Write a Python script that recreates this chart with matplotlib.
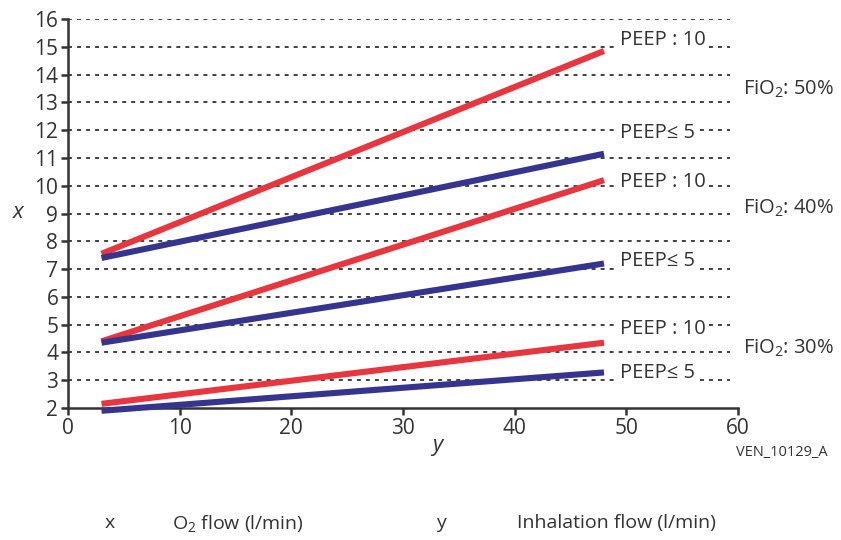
import matplotlib.pyplot as plt

plt.rcParams["font.family"] = ["Open Sans", "DejaVu Sans"]
plt.rcParams["mathtext.fontset"] = "custom"
plt.rcParams["mathtext.rm"] = "Open Sans"
plt.rcParams["mathtext.it"] = "Open Sans:italic"

# inhalation flow (l/min) at the two ends of every line
inhalation_flow = [3, 48]

# O2 flow (l/min) for each FiO2 / PEEP combination
o2_fio2_50_peep10 = [7.55, 14.85]
o2_fio2_50_peep5 = [7.4, 11.15]
o2_fio2_40_peep10 = [4.4, 10.2]
o2_fio2_40_peep5 = [4.35, 7.2]
o2_fio2_30_peep10 = [2.15, 4.35]
o2_fio2_30_peep5 = [1.9, 3.28]

peep_labels = ["PEEP : 10", "PEEP\u2264 5", "PEEP : 10", "PEEP\u2264 5", "PEEP : 10", "PEEP\u2264 5"]
peep_label_y = [15.25, 11.9, 10.15, 7.3, 4.85, 3.25]
fio2_labels = ["FiO$_2$: 50%", "FiO$_2$: 40%", "FiO$_2$: 30%"]
fio2_label_y = [13.48, 9.19, 4.14]

RED = "#e8363e"
BLUE = "#35358f"
GREY = "#333333"

fig = plt.figure(figsize=(8.41, 5.40), dpi=100)
ax = fig.add_axes([68 / 841, 1 - 408 / 540, 670 / 841, 389 / 540])

ax.set_xlim(0, 60)
ax.set_ylim(2, 16)
ax.set_xticks(range(0, 61, 10))
ax.set_yticks(range(2, 17))

for y in range(3, 17):
    ax.axhline(y, xmin=0, xmax=0.988, color=GREY, linewidth=1.3,
               linestyle=(0, (2.2, 2.8)), zorder=1)

series = [
    (o2_fio2_50_peep10, RED),
    (o2_fio2_50_peep5, BLUE),
    (o2_fio2_40_peep10, RED),
    (o2_fio2_40_peep5, BLUE),
    (o2_fio2_30_peep10, RED),
    (o2_fio2_30_peep5, BLUE),
]
for values, color in series:
    ax.plot(inhalation_flow, values, color=color, linewidth=4.4,
            solid_capstyle="butt", clip_on=False, zorder=3)

for label, y in zip(peep_labels, peep_label_y):
    ax.text(49.4, y, label, fontsize=14.5, color=GREY, ha="left", va="center",
            bbox=dict(facecolor="white", edgecolor="none", pad=1.5), zorder=4)

for label, y in zip(fio2_labels, fio2_label_y):
    ax.text(60.45, y, label, fontsize=14.5, color=GREY, ha="left", va="center",
            clip_on=False)

for side in ["top", "right"]:
    ax.spines[side].set_visible(False)
for side in ["left", "bottom"]:
    ax.spines[side].set_color(GREY)
    ax.spines[side].set_linewidth(1.8)
ax.tick_params(axis="both", colors=GREY, labelsize=15, width=1.8, length=5, pad=2)

fig.text(18 / 841, 1 - 212 / 540, "x", fontsize=16, style="italic", color=GREY,
         ha="center", va="center")
fig.text(437 / 841, 1 - 445 / 540, "y", fontsize=16, style="italic", color=GREY,
         ha="center", va="center")
fig.text(828 / 841, 1 - 453 / 540, "VEN_10129_A", fontsize=10.5, color=GREY,
         ha="right", va="center")

fig.text(110 / 841, 1 - 523 / 540, "x", fontsize=14, color=GREY, ha="center", va="center")
fig.text(172 / 841, 1 - 523 / 540, "O$_2$ flow (l/min)", fontsize=14, color=GREY,
         ha="left", va="center")
fig.text(441 / 841, 1 - 523 / 540, "y", fontsize=14, color=GREY, ha="center", va="center")
fig.text(517 / 841, 1 - 523 / 540, "Inhalation flow (l/min)", fontsize=14, color=GREY,
         ha="left", va="center")

fig.savefig("out.png", dpi=100)
